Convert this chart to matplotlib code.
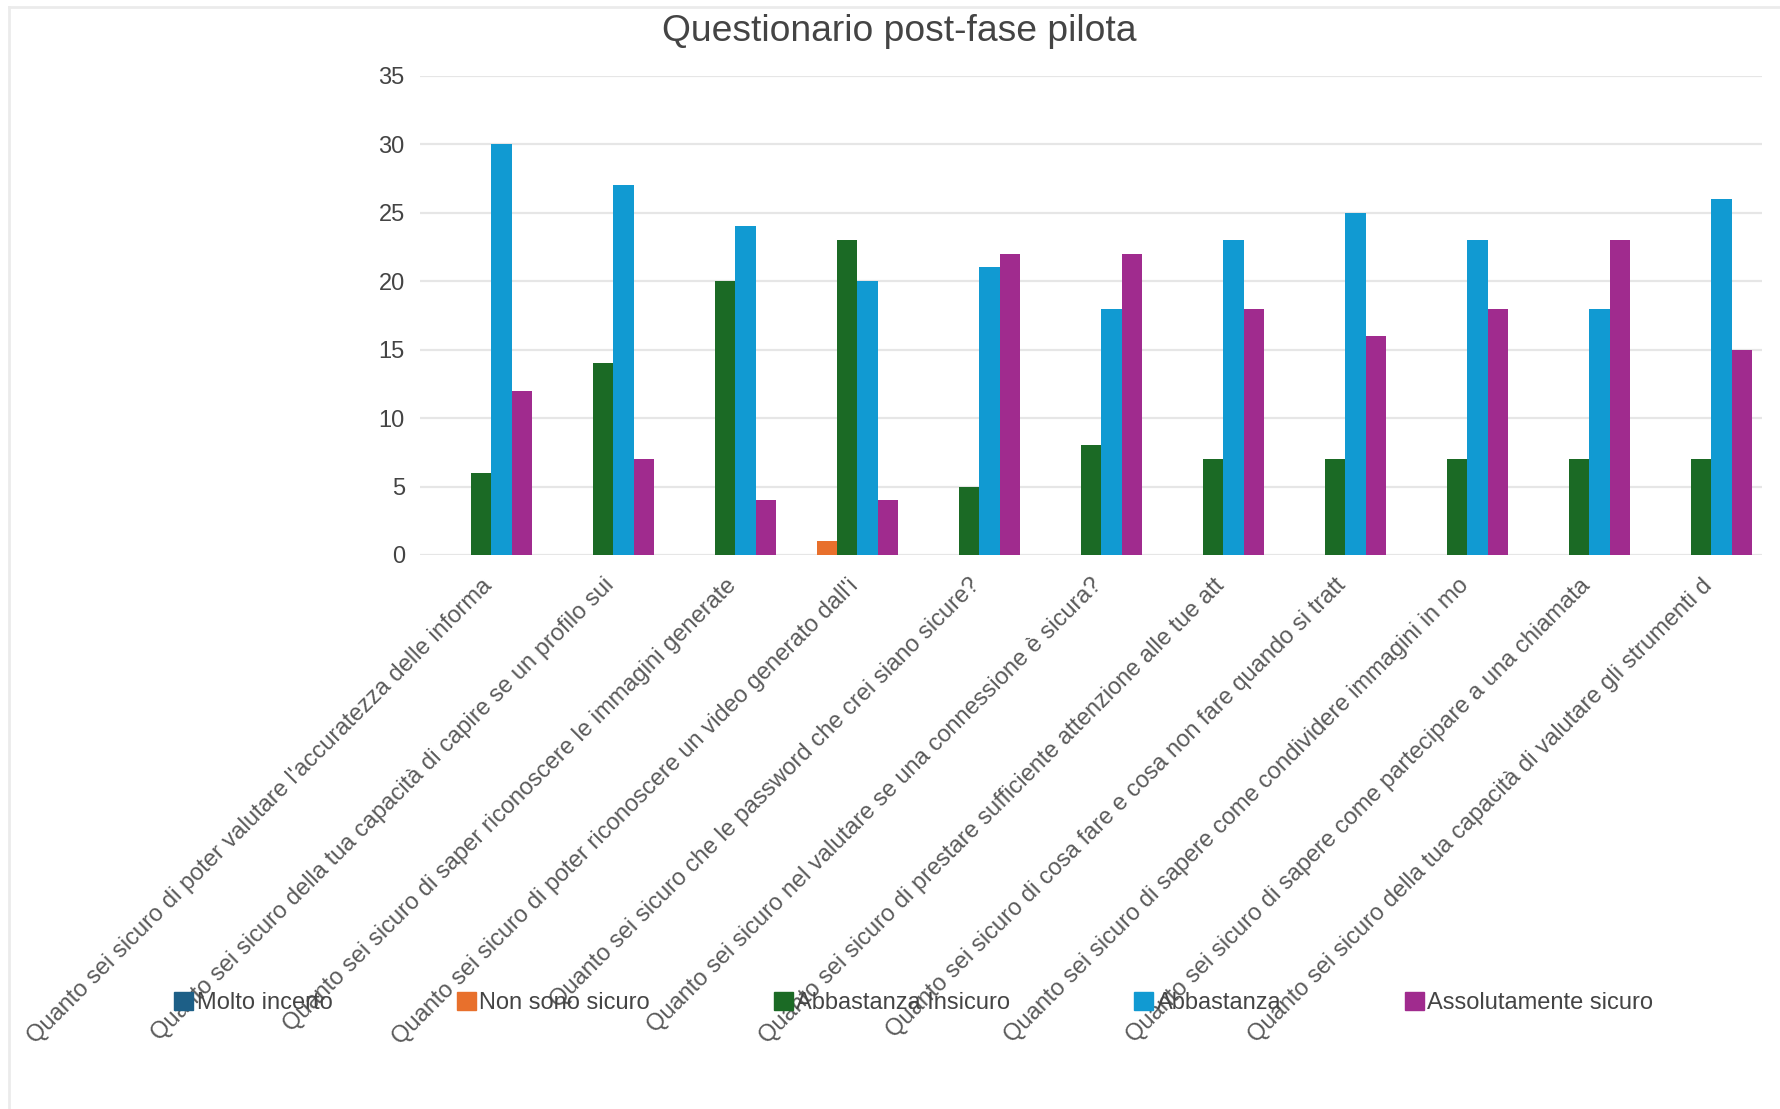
import numpy as np
import matplotlib.pyplot as plt
from matplotlib.lines import Line2D

plt.rcParams['font.family'] = ['Liberation Sans', 'DejaVu Sans']

# questions (truncated as in the chart)
questions = [
    "Quanto sei sicuro di poter valutare l'accuratezza delle informa",
    "Quanto sei sicuro della tua capacità di capire se un profilo sui",
    "Quanto sei sicuro di saper riconoscere le immagini generate",
    "Quanto sei sicuro di poter riconoscere un video generato dall'i",
    "Quanto sei sicuro che le password che crei siano sicure?",
    "Quanto sei sicuro nel valutare se una connessione è sicura?",
    "Quanto sei sicuro di prestare sufficiente attenzione alle tue att",
    "Quanto sei sicuro di cosa fare e cosa non fare quando si tratt",
    "Quanto sei sicuro di sapere come condividere immagini in mo",
    "Quanto sei sicuro di sapere come partecipare a una chiamata",
    "Quanto sei sicuro della tua capacità di valutare gli strumenti d",
]

series_names = ["Molto incerto", "Non sono sicuro", "Abbastanza Insicuro",
                "Abbastanza", "Assolutamente sicuro"]

molto_incerto = [0, 0, 0, 0, 0, 0, 0, 0, 0, 0, 0]
non_sono_sicuro = [0, 0, 0, 1, 0, 0, 0, 0, 0, 0, 0]
abbastanza_insicuro = [6, 14, 20, 23, 5, 8, 7, 7, 7, 7, 7]
abbastanza = [30, 27, 24, 20, 21, 18, 23, 25, 23, 18, 26]
assolutamente_sicuro = [12, 7, 4, 4, 22, 22, 18, 16, 18, 23, 15]

colors = ["#1d5f87", "#e8702c", "#1b6a25", "#119ad2", "#a02b8e"]

values = [molto_incerto, non_sono_sicuro, abbastanza_insicuro,
          abbastanza, assolutamente_sicuro]

fig = plt.figure(figsize=(17.8, 11.09), dpi=100)
ax = fig.add_axes([0.236, 0.4996, 0.754, 0.432])

x = np.arange(len(questions))
w = 0.167
handles = []
for i, (name, vals, c) in enumerate(zip(series_names, values, colors)):
    ax.bar(x + (i - 2) * w, vals, width=w, color=c, zorder=3)
    handles.append(plt.Rectangle((0, 0), 1, 1, color=c, label=name))

ax.set_xlim(-0.5, len(questions) - 0.5)
ax.set_ylim(0, 35)
ax.set_yticks(range(0, 36, 5))
ax.yaxis.grid(True, color="#e6e6e6", linewidth=1.6, zorder=0)
for s in ax.spines.values():
    s.set_visible(False)
ax.tick_params(axis="y", length=0, pad=11, labelsize=17, labelcolor="#444444")
ax.tick_params(axis="x", length=0, pad=14, labelsize=17, labelcolor="#5a5a5a")
ax.set_xticks(x)
ax.set_xticklabels(questions, rotation=45, ha="right", rotation_mode="anchor")

fig.text(0.505, 0.972, "Questionario post-fase pilota", ha="center", va="center",
         fontsize=26.8, color="#444444")

fig.legend(handles=handles, loc="center left", bbox_to_anchor=(0.0914, 0.0956),
           ncol=5, frameon=False, fontsize=17, handlelength=0.8, handleheight=0.8,
           handletextpad=0.15, columnspacing=5.25, borderpad=0, labelcolor="#444444")

# light border on top and left edge
fig.add_artist(Line2D([0.005, 0.005], [0, 0.994], color="#ebebeb", linewidth=2,
                      transform=fig.transFigure))
fig.add_artist(Line2D([0.005, 1], [0.994, 0.994], color="#ebebeb", linewidth=2,
                      transform=fig.transFigure))

fig.savefig("out.png", dpi=100)
